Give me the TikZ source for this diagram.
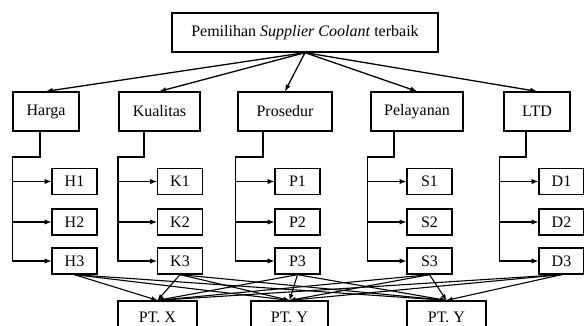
\documentclass[tikz,border=0pt]{standalone}
\usepackage{fontspec}
\setmainfont{Liberation Serif}
\usetikzlibrary{calc}

\begin{document}
\begin{tikzpicture}[x=1pt,y=-1pt,>=latex,line width=1.3pt,
    kotak/.style={draw,minimum height=39,inner sep=0,font=\fontsize{16}{19}\selectfont},
    sub/.style={kotak,minimum width=45,minimum height=26},
    pt/.style={kotak,minimum height=32}]
    \useasboundingbox (0,0) rectangle (584,326);
    \node[kotak,minimum width=266] (top) at (305,32.5) {Pemilihan \textit{Supplier Coolant} terbaik};
    % kriteria dan sub kriteria
    \foreach \n/\lab/\cx/\w/\tx/\hr/\sx in {h/Harga/46/66/40/H/74.5,k/Kualitas/159.5/81/144/K/180,
        p/Prosedur/285/94/263/P/297.5,s/Pelayanan/417/92/394/S/429.5,d/LTD/537/66/526/D/561.5}{
        \node[kotak,minimum width=\w] (\n) at (\cx,111.5) {\lab};
        \draw[->] (top.south) -- (\n.north);
        \foreach \i/\y in {1/181.5,2/222,3/261}
            \node[sub] (\n\i) at (\sx,\y) {\hr\i};
        \coordinate (\n b) at (\tx,157);
        \coordinate (\n l) at ($(\n1.west)+(-39,0)$);
        \draw[->] (\n.south -| \n b) -- (\n b) -| (\n3.west -| \n l) -- (\n3.west);
        \foreach \i in {1,2} \draw[->] (\n\i.west -| \n l) -- (\n\i.west);
    }
    % alternatif
    \node[pt,minimum width=79] (ptx) at (157.5,317) {PT. X};
    \node[pt,minimum width=77] (pty) at (289.5,317) {PT. Y};
    \node[pt,minimum width=79] (ptz) at (446.5,317) {PT. Y};
    \foreach \a in {h3,k3,p3,s3,d3}
        \foreach \b in {ptx,pty,ptz}
            \draw[->,line width=1.1pt] (\a.south) -- (\b.north);
\end{tikzpicture}
\end{document}
